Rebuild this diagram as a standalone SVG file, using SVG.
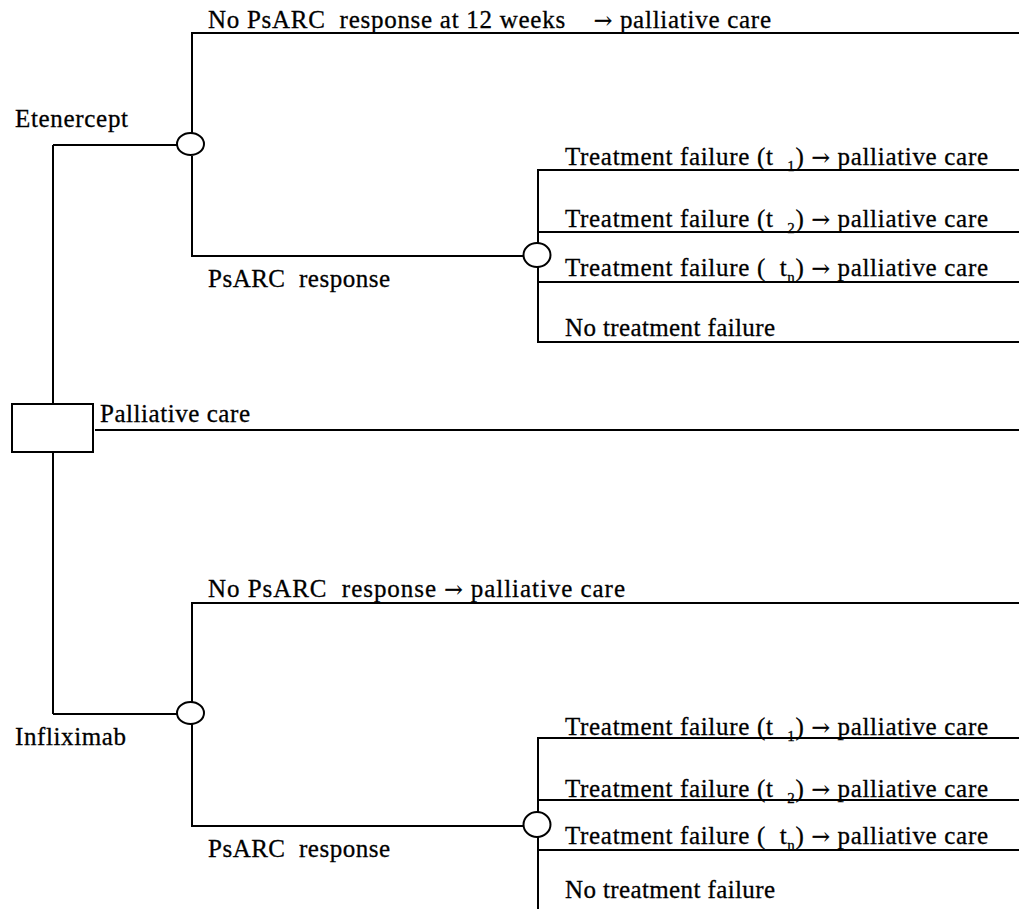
<svg xmlns="http://www.w3.org/2000/svg" width="1019" height="909" viewBox="0 0 1019 909">
<style>
.c{fill:none;stroke:#000;stroke-width:2}
.n{fill:#fff;stroke:#000;stroke-width:2}
.s{font-size:15px}
.a{font-family:'DejaVu Serif',serif;font-size:22px}
</style>
<rect width="1019" height="909" fill="#fff"/>
<g id="connectors" class="c">
<path d="M53,145V404M53,452V714M53,145H177M53,714H177"/>
<path d="M192,133V33H1019M192,156V256H523"/>
<path d="M538,243V170H1019M538,267V342H1019M538,232H1019M538,282H1019"/>
<path d="M95,430H1019"/>
<path d="M192,702V603H1019M192,724V826H523"/>
<path d="M538,812V738H1019M538,837V909M538,800H1019M538,850H1019"/>
</g>
<g id="root"><rect class="n" x="12" y="404" width="81" height="48"/></g>
<g id="etanercept_chance"><ellipse class="n" cx="190.5" cy="144" rx="13.5" ry="11"/></g>
<g id="etanercept_response_chance"><ellipse class="n" cx="537" cy="255" rx="13.5" ry="12"/></g>
<g id="infliximab_chance"><ellipse class="n" cx="190.5" cy="713" rx="13.5" ry="11"/></g>
<g id="infliximab_response_chance"><ellipse class="n" cx="537" cy="824.5" rx="13.5" ry="12.5"/></g>
<g id="labels" font-family="Liberation Serif, Times New Roman, serif" font-size="25" fill="#000" stroke="#000" stroke-width="0.3">
<text x="15" y="127" textLength="113">Etenercept</text>
<text x="208" y="28" textLength="563">No PsARC&#160; response at 12 weeks&#160;&#160;&#160; <tspan class="a">→</tspan> palliative care</text>
<text x="208" y="287" textLength="182">PsARC&#160; response</text>
<text x="565" y="165" textLength="423">Treatment failure (t&#160; <tspan class="s" dy="6">1</tspan><tspan dy="-6">) </tspan><tspan class="a">→</tspan> palliative care</text>
<text x="565" y="227" textLength="423">Treatment failure (t&#160; <tspan class="s" dy="6">2</tspan><tspan dy="-6">) </tspan><tspan class="a">→</tspan> palliative care</text>
<text x="565" y="276" textLength="423">Treatment failure (&#160; t<tspan class="s" dy="6">n</tspan><tspan dy="-6">) </tspan><tspan class="a">→</tspan> palliative care</text>
<text x="565" y="336" textLength="210">No treatment failure</text>
<text x="100" y="422" textLength="150">Palliative care</text>
<text x="208" y="597" textLength="417">No PsARC&#160; response <tspan class="a">→</tspan> palliative care</text>
<text x="15" y="745" textLength="111">Infliximab</text>
<text x="208" y="857" textLength="182">PsARC&#160; response</text>
<text x="565" y="735" textLength="423">Treatment failure (t&#160; <tspan class="s" dy="6">1</tspan><tspan dy="-6">) </tspan><tspan class="a">→</tspan> palliative care</text>
<text x="565" y="797" textLength="423">Treatment failure (t&#160; <tspan class="s" dy="6">2</tspan><tspan dy="-6">) </tspan><tspan class="a">→</tspan> palliative care</text>
<text x="565" y="844" textLength="423">Treatment failure (&#160; t<tspan class="s" dy="6">n</tspan><tspan dy="-6">) </tspan><tspan class="a">→</tspan> palliative care</text>
<text x="565" y="898" textLength="210">No treatment failure</text>
</g>
</svg>
